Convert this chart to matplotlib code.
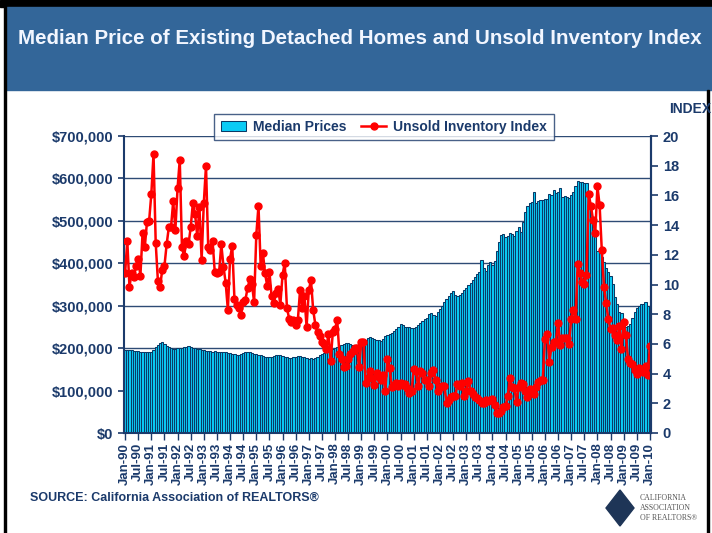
import matplotlib
matplotlib.use("Agg")
import matplotlib.pyplot as plt
from matplotlib.patches import Rectangle, Polygon
from matplotlib.ticker import FuncFormatter, MultipleLocator

# monthly data, Jan-90 .. Jan-10
# median price of existing detached homes, $ thousands
median_price = [
    195, 196, 195, 195, 194, 194, 193, 192, 191, 190, 190, 191,  # 1990
    192, 196, 202, 208, 213, 214, 210, 206, 202, 200, 199, 199,  # 1991
    200, 201, 200, 202, 203, 204, 203, 201, 200, 199, 197, 196,  # 1992
    195, 194, 194, 193, 192, 193, 192, 192, 191, 190, 190, 189,  # 1993
    188, 187, 186, 185, 185, 186, 188, 190, 191, 190, 189, 187,  # 1994
    186, 185, 183, 181, 179, 178, 178, 180, 182, 183, 184, 183,  # 1995
    181, 180, 179, 177, 176, 178, 180, 181, 182, 180, 178, 177,  # 1996
    175, 176, 175, 177, 180, 183, 186, 189, 192, 194, 196, 198,  # 1997
    200, 202, 205, 207, 209, 211, 212, 210, 207, 205, 208, 211,  # 1998
    213, 216, 220, 223, 226, 224, 222, 220, 219, 218, 222, 228,  # 1999
    230, 233, 236, 240, 245, 250, 256, 254, 251, 250, 249, 248,  # 2000
    247, 250, 255, 259, 263, 268, 272, 280, 283, 278, 276, 285,  # 2001
    292, 300, 308, 316, 322, 330, 334, 326, 322, 325, 330, 338,  # 2002
    342, 348, 354, 360, 368, 375, 380, 408, 388, 382, 395, 403,  # 2003
    395, 405, 430, 450, 467, 470, 462, 465, 471, 468, 465, 475,  # 2004
    486, 474, 497, 521, 535, 542, 544, 568, 542, 546, 550, 549,  # 2005
    551, 552, 563, 560, 573, 565, 568, 577, 556, 558, 556, 555,  # 2006
    560, 568, 582, 594, 592, 591, 590, 589, 540, 515, 495, 470,  # 2007
    430, 425, 415, 402, 390, 380, 370, 352, 320, 305, 285, 282,  # 2008
    257, 250, 252, 258, 270, 285, 295, 300, 303, 305, 309, 300,  # 2009
    287,                                                         # 2010
]

# unsold inventory index, months
inventory_index = [
    10.75, 12.95, 9.85, 10.8, 10.5, 11.25, 11.7, 10.6, 13.5, 12.5, 14.2, 14.3,
    16.1, 18.8, 12.8, 10.25, 9.85, 11.0, 11.25, 12.7, 13.85, 13.85, 15.6, 13.7,
    16.5, 18.4, 12.5, 11.9, 12.95, 12.7, 13.85, 15.5, 14.75, 13.25, 15.2, 11.65,
    15.5, 18.0, 12.55, 12.3, 12.95, 10.85, 10.75, 10.85, 12.7, 11.2, 10.1, 8.3,
    11.75, 12.6, 9.05, 8.6, 8.4, 7.95, 8.85, 8.95, 9.75, 10.35, 10.05, 8.8,
    13.35, 15.3, 11.25, 12.15, 10.75, 9.9, 10.85, 9.2, 8.75, 9.4, 9.7, 8.65,
    10.65, 11.45, 8.45, 7.7, 7.5, 7.6, 7.25, 7.6, 9.6, 8.4, 9.2, 7.15,
    9.6, 10.3, 8.3, 7.3, 6.8, 6.5, 6.15, 6.0, 5.65, 6.7, 4.85, 6.8,
    7.0, 7.6, 5.35, 5.0, 4.45, 4.5, 4.95, 5.35, 5.55, 5.7, 5.7, 4.45,
    6.15, 6.1, 3.4, 3.7, 4.2, 3.7, 3.2, 4.05, 3.75, 3.6, 3.9, 2.85,
    5.0, 4.35, 3.1, 3.25, 3.4, 3.15, 3.35, 3.25, 3.3, 3.0, 2.7, 2.85,
    4.3, 4.2, 3.15, 4.15, 4.05, 3.6, 3.6, 3.15, 4.05, 4.25, 3.6, 2.85,
    3.1, 3.15, 3.15, 2.05, 2.2, 2.45, 2.5, 2.5, 3.3, 3.15, 3.35, 2.5,
    2.85, 3.5, 2.85, 2.65, 2.4, 2.35, 2.25, 2.05, 2.05, 2.2, 2.15, 2.25,
    2.3, 1.9, 1.35, 1.35, 1.5, 1.75, 1.85, 2.5, 3.7, 3.1, 3.0, 2.1,
    3.1, 3.35, 3.3, 2.8, 2.4, 2.95, 2.8, 2.6, 3.1, 3.45, 3.6, 3.6,
    6.3, 6.7, 4.8, 5.8, 6.15, 6.15, 7.4, 5.9, 6.4, 6.4, 6.4, 6.0,
    7.7, 8.3, 7.7, 11.4, 10.75, 10.2, 10.05, 10.65, 16.1, 15.3, 14.35, 13.45,
    16.6, 15.35, 12.3, 9.85, 8.75, 7.65, 7.0, 7.05, 6.6, 6.25, 7.2, 5.65,
    7.45, 6.6, 5.0, 4.7, 4.65, 4.25, 4.0, 4.35, 4.15, 4.1, 4.5, 3.9,
    5.85,
]

months = list(range(len(median_price)))
tick_pos = months[::6]
tick_labels = []
for yy in range(1990, 2011):
    tick_labels.append("Jan-%02d" % (yy % 100))
    tick_labels.append("Jul-%02d" % (yy % 100))
tick_labels = tick_labels[:len(tick_pos)]

navy = "#1B3A6B"
band = "#336699"
plt.rcParams['font.family'] = ['Liberation Sans', 'DejaVu Sans']

fig = plt.figure(figsize=(7.12, 5.33), dpi=100)

# slide decoration
fig.patches.append(Rectangle((0, 1 - 7 / 533), 1, 7 / 533, transform=fig.transFigure,
                             color="black", zorder=0))
fig.patches.append(Rectangle((6 / 712, 1 - 90 / 533), 1, 83 / 533, transform=fig.transFigure,
                             color=band, zorder=0))
fig.patches.append(Rectangle((4 / 712, 0), 2 / 712, 1, transform=fig.transFigure,
                             color="black", zorder=1))
fig.patches.append(Rectangle((707 / 712, 0), 2 / 712, 1 - 90 / 533, transform=fig.transFigure,
                             color="black", zorder=1))
fig.text(360 / 712, 1 - 38 / 533, "Median Price of Existing Detached Homes and Unsold Inventory Index",
         ha="center", va="center", color="#F2F6FF", fontsize=14.8, fontweight="bold")

ax = fig.add_axes([124 / 712, 100 / 533, 527 / 712, 297 / 533])
ax.set_axisbelow(True)
bars = ax.bar(months, [p * 1000 for p in median_price], width=1.0, color="#0ACBF5",
              edgecolor="#0A3A66", linewidth=0.75, label="Median Prices")
ax.set_xlim(-0.5, len(months) - 0.5)
ax.set_ylim(0, 700000)
ax.yaxis.set_major_locator(MultipleLocator(100000))
ax.yaxis.set_major_formatter(FuncFormatter(lambda v, p: "${:,.0f}".format(v)))
ax.grid(axis="y", color="#2E4B75", linewidth=1.0)
ax.set_xticks(tick_pos)
ax.set_xticklabels(tick_labels, rotation=90)
ax.spines["top"].set_visible(False)
for s in ["left", "bottom", "right"]:
    ax.spines[s].set_color(navy)
    ax.spines[s].set_linewidth(1.5)
ax.tick_params(axis="y", colors=navy, direction="out", length=4, width=1.2, labelsize=10.5)
ax.tick_params(axis="x", colors=navy, direction="out", length=5, width=1.0, labelsize=9.5, pad=2)
for t in ax.get_xticklabels() + ax.get_yticklabels():
    t.set_fontweight("bold")

ax2 = ax.twinx()
line, = ax2.plot(months, inventory_index, color="#FF0000", linewidth=1.8, marker="o",
                 markersize=5, label="Unsold Inventory Index")
ax2.set_ylim(0, 20)
ax2.yaxis.set_major_locator(MultipleLocator(2))
ax2.spines["top"].set_visible(False)
ax2.spines["right"].set_color(navy)
ax2.spines["right"].set_linewidth(1.5)
ax2.spines["left"].set_visible(False)
ax2.spines["bottom"].set_visible(False)
ax2.tick_params(axis="y", colors=navy, direction="out", length=5, width=1.2, labelsize=10.5)
for t in ax2.get_yticklabels():
    t.set_fontweight("bold")

leg = ax2.legend([bars, line], ["Median Prices", "Unsold Inventory Index"], ncol=2,
                 loc="center", bbox_to_anchor=(384 / 712, 1 - 127 / 533),
                 bbox_transform=fig.transFigure, frameon=True, fancybox=False,
                 prop={"weight": "bold", "size": 10}, handlelength=1.8,
                 handletextpad=0.5, columnspacing=1.1, borderpad=0.45)
leg.get_frame().set_edgecolor(navy)
leg.get_frame().set_linewidth(1.0)
for t in leg.get_texts():
    t.set_color(navy)

fig.text(690 / 712, 1 - 109 / 533, "INDEX", ha="center", va="center", color=navy,
         fontsize=10, fontweight="bold")
fig.text(30 / 712, 1 - 498 / 533, "SOURCE: California Association of REALTORS\u00ae",
         ha="left", va="center", color=navy, fontsize=9, fontweight="bold")

# logo
fig.patches.append(Polygon([(606 / 712, 1 - 508 / 533), (620 / 712, 1 - 490 / 533),
                            (634 / 712, 1 - 508 / 533), (620 / 712, 1 - 526 / 533)],
                           closed=True, transform=fig.transFigure, color="#1E3557"))
fig.text(640 / 712, 1 - 508 / 533, "CALIFORNIA\nASSOCIATION\nOF REALTORS\u00ae",
         ha="left", va="center", color="#555555", fontsize=5.6, family="Liberation Serif",
         linespacing=1.25)

fig.savefig("out.png", dpi=100)
